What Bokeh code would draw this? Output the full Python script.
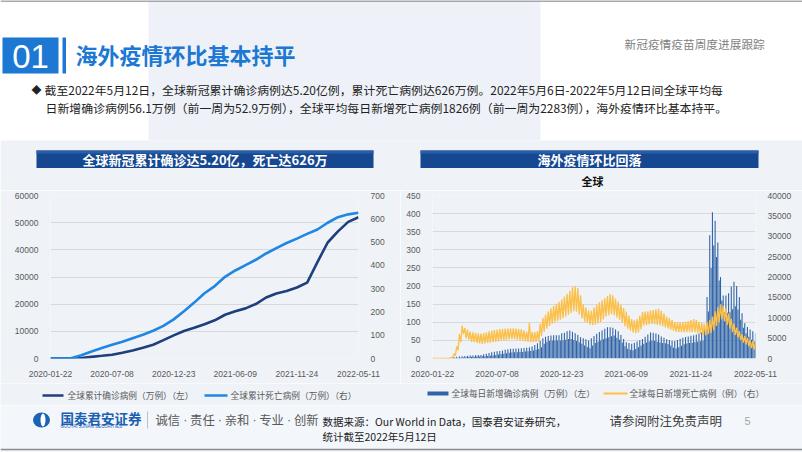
import pandas as pd
from bokeh.plotting import figure
from bokeh.layouts import column, row
from bokeh.models import Range1d, LinearAxis, FixedTicker, DatetimeTickFormatter
from bokeh.embed import file_html
from bokeh.resources import INLINE
from bokeh.core.properties import value

# ---------------- data ----------------
start_date = "2020-01-22"
end_date = "2022-05-11"
x_tick_labels = ["2020-01-22", "2020-07-08", "2020-12-23", "2021-06-09", "2021-11-24", "2022-05-11"]

# left chart: cumulative values every 4 weeks from 2020-01-22
cum_cases_wan = [0, 0, 20, 200, 600, 1000, 1410, 2150, 2950, 3950, 5050, 6750, 8500, 10100,
                 11300, 12600, 14050, 16100, 17400, 18450, 20050, 22450, 23950, 24850, 26120,
                 27950, 35500, 42700, 46800, 50300, 52000]
cum_deaths_wan = [0, 0, 1, 14, 30, 45, 59, 72, 87, 102, 119, 140, 168, 203, 240, 280, 311,
                  351, 378, 401, 424, 451, 474, 496, 515, 535, 554, 583, 607, 619, 626]

# right chart: weekly peak / trough of daily new cases (万例) and daily deaths (例)
cases_peak = [0, 0, 0, 0,
              0.2, 0.3, 0.5, 1.0,
              3.8, 4.7, 5.6, 6.5, 7.0,
              7.5, 8.0, 8.5, 9.0, 9.5, 10,
              11.5, 13, 15, 17,
              18.5, 19.7, 21, 22.4, 24, 25.5,
              26.8, 27.2, 27.5, 27.8, 28.2, 29, 30, 30.8,
              33, 37.5, 42, 48,
              56, 60, 62, 63.5, 64, 64, 64,
              70, 71, 75, 77,
              74, 70, 65, 59, 56, 53, 50,
              56, 62, 68, 73, 77, 82, 86, 86, 85,
              80, 75, 65, 54, 45, 43, 41,
              43.5, 47, 50.5, 54, 60, 66, 72,
              71, 69, 66, 61, 57, 53, 51, 49, 48,
              51, 54.5, 57.5, 59.5, 61, 62.5, 64, 66, 69, 72,
              95, 170, 340, 404, 380, 320, 225,
              174, 174, 180, 199, 212, 200, 170,
              125, 97, 87, 80, 75, 70]
cases_low = [0, 0, 0, 0,
             0.1, 0.1, 0.2, 0.5,
             1.1, 1.7, 2.4, 3.0, 3.5,
             4.1, 4.7, 5.1, 5.4, 5.7, 6,
             6.5, 7, 7.5, 8,
             9.3, 10.7, 12, 13.3, 14.5, 15.7,
             16.8, 17.2, 17.5, 17.8, 18.2, 19, 20, 20.8,
             22, 24, 26, 31,
             41, 46, 48, 49.5, 50, 50, 50,
             50.5, 52, 53.5, 54,
             51, 48, 45, 41, 36, 32, 28,
             36, 43, 46.5, 50, 53, 56, 59, 61.5, 63.5,
             57, 52, 44, 34, 27, 24.5, 22.5,
             26, 31, 36, 41, 44, 47, 50,
             48, 46, 44.5, 43, 42, 40, 35, 30, 27.5,
             31, 35, 39, 41.5, 42.5, 43.5, 45, 46, 47.5, 49.5,
             70, 130, 250, 312, 280, 215, 160,
             128, 126, 128, 136, 144, 135, 107,
             85, 70, 60, 52, 47, 42]
deaths_peak = [0, 0, 0, 0, 0, 0, 0,
               300, 1200, 3000, 6000, 8100, 7500,
               7100, 6600, 6400, 6300, 6200, 6100,
               6250, 6450, 6650, 6870, 6980, 7100,
               7200, 7300, 7330, 7370, 7400, 7380,
               7330, 7290, 7200, 6900, 6600, 8800,
               6500, 6550, 6700, 8500, 9900, 10800,
               11600, 12300, 12900, 13400, 13900, 14500,
               15200, 15900, 16600, 17500, 17700, 17300,
               15500, 13300, 12500, 11800, 11700, 12500,
               13200, 13800, 14300, 14800, 15300, 15800,
               15500, 14700, 14000, 13200, 12400, 11500,
               10500, 9700, 9400, 9700, 10500, 11400,
               11500, 11600, 11780, 11900, 12000, 12200,
               11700, 11000, 10300, 9900, 9400, 8950,
               8900, 8900, 8900, 9000, 9200, 9450,
               9700, 9500, 9000, 8700, 8500, 9000,
               9500, 10300, 11600, 12600, 13300, 12900,
               12300, 11000, 9740, 8600, 7550, 6700,
               5950, 5500, 5050, 4600, 4250, 4000]
deaths_low = [0, 0, 0, 0, 0, 0, 0,
              150, 700, 2000, 4000, 6000, 5000,
              4600, 4100, 4000, 3800, 3700, 3600,
              3700, 3800, 3900, 4000, 4100, 4200,
              4350, 4450, 4550, 4700, 4800, 4750,
              4600, 4500, 4400, 4250, 4100, 4000,
              4000, 4050, 4200, 5500, 6600, 7300,
              8000, 8550, 8900, 9200, 9550, 9900,
              10300, 10750, 11200, 11600, 11500, 10800,
              9900, 9000, 8700, 8300, 8200, 8300,
              8600, 8900, 9600, 10300, 10650, 10900,
              10600, 10100, 9500, 8700, 7900, 7300,
              6800, 6400, 6200, 6400, 7200, 8100,
              8200, 8350, 8500, 8400, 8250, 8100,
              7900, 7650, 7350, 7100, 6800, 6500,
              6460, 6460, 6460, 6460, 6460, 6460,
              6460, 6300, 6000, 5800, 5640, 5950,
              6300, 6900, 8000, 8800, 9600, 9100,
              8250, 7300, 6460, 5800, 5150, 4500,
              3900, 3450, 3000, 2550, 2200, 1960]

motto_words = ["诚信", "责任", "亲和", "专业", "创新"]

# ---------------- styles ----------------
CJK = "Noto Sans CJK SC"
NUM = "Liberation Sans"
BG = "#eff3f8"
BLUE = "#1c78d2"
DARK_LINE = "#1d3f7e"
LIGHT_LINE = "#1f87e3"
BAR = "#2f63a6"
ORANGE = "#fcbf47"
GRID = "#d9d9d9"
TICK = "#595959"

t0 = pd.Timestamp(start_date)
t1 = pd.Timestamp(end_date)
x_ticks = [pd.Timestamp(s).value // 10**6 for s in x_tick_labels]
fmt = "%Y-%m-%d"
dt_fmt = DatetimeTickFormatter(days=fmt, months=fmt, years=fmt, hours=fmt,
                               minutes=fmt, seconds=fmt, milliseconds=fmt,
                               microseconds=fmt, minsec=fmt, hourmin=fmt)


def blank(fig):
    fig.axis.visible = False
    fig.grid.visible = False
    fig.outline_line_color = None


def txt(fig, x, y, s, size, color, bold=False, align="left", font=CJK):
    fig.text(x=[x], y=[y], text=[s], text_font=value(font), text_font_size=value(size),
             text_color=color, text_font_style="bold" if bold else "normal",
             text_align=align, text_baseline="middle")


def style_axes(fig):
    for ax in fig.axis:
        ax.axis_line_color = None
        ax.major_tick_line_color = None
        ax.minor_tick_line_color = None
        ax.major_label_text_font = NUM
        ax.major_label_text_font_size = "8.5px"
        ax.major_label_text_color = TICK
        ax.major_label_standoff = 6
    fig.xgrid.grid_line_color = None
    fig.ygrid.grid_line_color = GRID
    fig.ygrid.grid_line_width = 1
    fig.outline_line_color = None
    fig.background_fill_color = BG
    fig.border_fill_color = BG


# ---------------- header ----------------
HB = 190
H = figure(width=802, height=HB, x_range=Range1d(0, 802), y_range=Range1d(HB, 0),
           output_backend="svg", toolbar_location=None, min_border=0)
blank(H)
H.background_fill_color = "white"
H.border_fill_color = "white"
H.quad(left=[148], right=[540], top=[0], bottom=[140], color="#eef2f8", line_color=None)
H.quad(left=[0], right=[802], top=[140], bottom=[HB], color=BG, line_color=None)
H.segment(x0=[0], y0=[0.5], x1=[802], y1=[0.5], color="#8c8c8c", line_width=1.5)
H.quad(left=[2], right=[58], top=[37], bottom=[73], color=BLUE, line_color=None)
H.quad(left=[62], right=[65.5], top=[37], bottom=[73], color=BLUE, line_color=None)
txt(H, 30, 55.5, "01", "33px", "white", align="center", font=NUM)
txt(H, 75, 53, "海外疫情环比基本持平", "22px", BLUE, bold=True)
txt(H, 624, 43, "新冠疫情疫苗周度进展跟踪", "11.7px", "#7f7f7f")
txt(H, 31, 89, "◆", "10px", "#222222")
txt(H, 44, 89, "截至2022年5月12日，全球新冠累计确诊病例达5.20亿例，累计死亡病例达626万例。2022年5月6日-2022年5月12日间全球平均每",
    "11.9px", "#222222")
txt(H, 45, 106.5, "日新增确诊病例56.1万例（前一周为52.9万例），全球平均每日新增死亡病例1826例（前一周为2283例），海外疫情环比基本持平。",
    "11.9px", "#222222")
for (l, r, label) in [(36, 373, "全球新冠累计确诊达5.20亿，死亡达626万"), (420, 758, "海外疫情环比回落")]:
    H.quad(left=[l], right=[r], top=[150], bottom=[167.5], color="#164892", line_color=None)
    H.quad(left=[l], right=[r], top=[150], bottom=[153], color="#2a5fa8", line_color=None)
    txt(H, (l + r) / 2, 158.5, label, "13px", "white", bold=True, align="center")
txt(H, 592, 180.5, "全球", "11px", "#111111", bold=True, align="center")

# ---------------- left chart ----------------
CH = 383 - HB
left_dates = [t0 + pd.Timedelta(days=28 * i) for i in range(len(cum_cases_wan))]
L = figure(width=400, height=CH, x_axis_type="datetime", x_range=Range1d(t0, t1),
           y_range=Range1d(0, 60000), output_backend="svg", toolbar_location=None,
           min_border_left=50, min_border_right=42, min_border_top=195 - HB, min_border_bottom=18)
L.extra_y_ranges = {"r": Range1d(0, 700)}
L.add_layout(LinearAxis(y_range_name="r"), "right")
L.line(left_dates, cum_cases_wan, color=DARK_LINE, line_width=2.6)
L.line(left_dates, cum_deaths_wan, color=LIGHT_LINE, line_width=2.6, y_range_name="r")
L.xaxis.ticker = FixedTicker(ticks=x_ticks)
L.xaxis.formatter = dt_fmt
L.yaxis[0].ticker = FixedTicker(ticks=list(range(0, 60001, 10000)))
L.yaxis[1].ticker = FixedTicker(ticks=list(range(0, 701, 100)))
style_axes(L)

# ---------------- right chart ----------------
peak_dates = [t0 + pd.Timedelta(days=7 * i) for i in range(len(cases_peak))]
low_dates = [d + pd.Timedelta(hours=84) for d in peak_dates]
R = figure(width=402, height=CH, x_axis_type="datetime", x_range=Range1d(t0, t1),
           y_range=Range1d(0, 450), output_backend="svg", toolbar_location=None,
           min_border_left=32, min_border_right=47, min_border_top=195 - HB, min_border_bottom=25)
R.extra_y_ranges = {"r": Range1d(0, 40000)}
R.add_layout(LinearAxis(y_range_name="r"), "right")
bw = 2.8 * 86400000
R.vbar(x=peak_dates + low_dates, top=cases_peak + cases_low, width=bw,
       color=BAR, line_color=None)
zig_x, zig_y = [], []
for d_p, d_l, vp, vl in zip(peak_dates, low_dates, deaths_peak, deaths_low):
    zig_x += [d_p, d_l]
    zig_y += [vp, vl]
R.line(zig_x, zig_y, color=ORANGE, line_width=1.3, y_range_name="r")
R.xaxis.ticker = FixedTicker(ticks=x_ticks)
R.xaxis.formatter = dt_fmt
R.yaxis[0].ticker = FixedTicker(ticks=list(range(0, 451, 50)))
R.yaxis[1].ticker = FixedTicker(ticks=list(range(0, 40001, 5000)))
style_axes(R)

# ---------------- legend strip ----------------
G = figure(width=802, height=22, x_range=Range1d(0, 802), y_range=Range1d(405, 383),
           output_backend="svg", toolbar_location=None, min_border=0)
blank(G)
G.background_fill_color = BG
G.border_fill_color = BG
G.segment(x0=[42], y0=[395], x1=[63], y1=[395], color=DARK_LINE, line_width=2.6)
txt(G, 67, 395, "全球累计确诊病例（万例）（左）", "8.7px", TICK)
G.segment(x0=[204], y0=[395], x1=[227], y1=[395], color=LIGHT_LINE, line_width=2.6)
txt(G, 230, 395, "全球累计死亡病例（万例）（右）", "8.7px", TICK)
G.quad(left=[427], right=[448], top=[391], bottom=[395], color=BAR, line_color=None)
txt(G, 451, 393, "全球每日新增确诊病例（万例）（左）", "8.7px", TICK)
G.segment(x0=[603], y0=[393], x1=[627], y1=[393], color=ORANGE, line_width=2.2)
txt(G, 629, 393, "全球每日新增死亡病例（例）（右）", "8.7px", TICK)

# ---------------- footer ----------------
F = figure(width=802, height=47, x_range=Range1d(0, 802), y_range=Range1d(452, 405),
           output_backend="svg", toolbar_location=None, min_border=0)
blank(F)
F.background_fill_color = "#f3f6fa"
F.border_fill_color = "#f3f6fa"
F.ellipse(x=[41], y=[419.5], width=17, height=15, color="#1b63b8", line_color=None)
F.ellipse(x=[42.5], y=[419.5], width=5, height=13, color="white", line_color=None)
txt(F, 60, 417, "国泰君安证券", "13.5px", "#1b5fb3", bold=True)
txt(F, 60, 425.5, "GUOTAI JUNAN SECURITIES", "4.5px", "#1b5fb3", font=NUM)
F.segment(x0=[147], y0=[411], x1=[147], y1=[428], color="#bfbfbf", line_width=1)
step = 34.6
for i, w in enumerate(motto_words):
    txt(F, 155 + i * step, 419.5, w, "12.3px", "#595959")
    if i < len(motto_words) - 1:
        txt(F, 155 + i * step + 29.8, 419.5, "·", "12.3px", "#595959", align="center", font=NUM)
txt(F, 322, 421, "数据来源：Our World in Data，国泰君安证券研究，", "10.5px", "#222222")
txt(F, 322, 436, "统计截至2022年5月12日", "10.5px", "#222222")
txt(F, 609, 420, "请参阅附注免责声明", "12.5px", "#404040")
txt(F, 744, 420, "5", "11px", "#a6a6a6", font=NUM)
F.segment(x0=[0], y0=[449], x1=[802], y1=[449], color="#8c8c8c", line_width=1.5)

layout = column(H, row(L, R), G, F)
open("out.html", "w").write(file_html(layout, INLINE))
